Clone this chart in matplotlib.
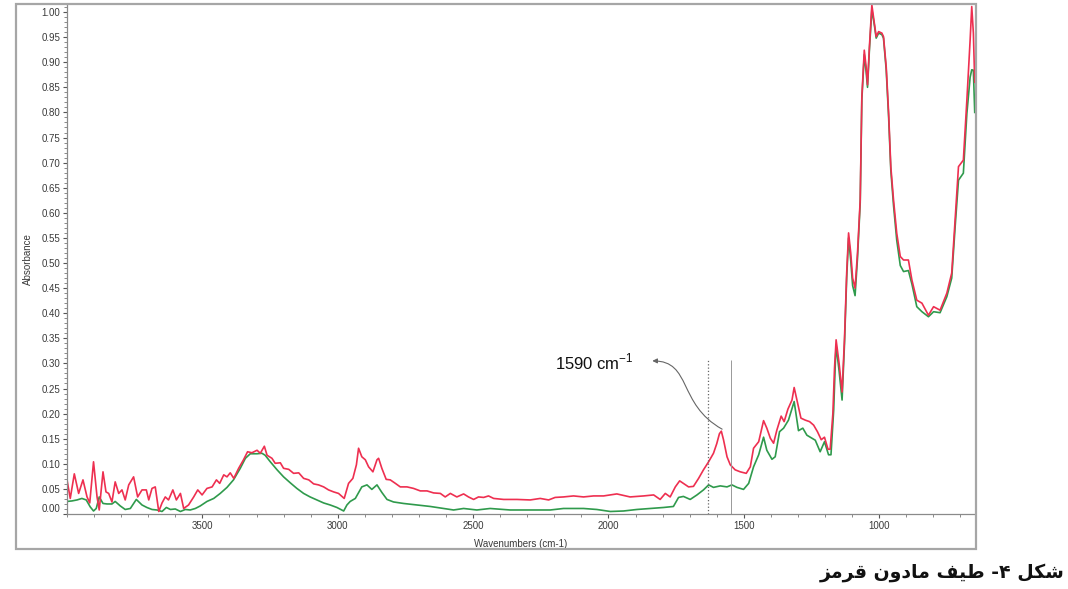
import numpy as np
import matplotlib
matplotlib.use("Agg")
import matplotlib.pyplot as plt
from matplotlib.patches import Rectangle, FancyArrowPatch
from matplotlib.path import Path
from matplotlib.ticker import MultipleLocator, FormatStrFormatter

# =============================================================================
# data (wavenumber cm-1, absorbance)
# =============================================================================

wn_red = [4000, 3988, 3973, 3957, 3941, 3926, 3916, 3902, 3889, 3881, 3867, 3856, 3846, 3834,
          3822, 3809, 3797, 3785, 3772, 3754, 3739, 3723, 3707, 3698, 3686, 3674, 3661, 3649,
          3637, 3625, 3609, 3596, 3581, 3569, 3551, 3532, 3517, 3501, 3483, 3464, 3448, 3436,
          3421, 3409, 3397, 3384, 3366, 3348, 3333, 3317, 3298, 3286, 3271, 3261, 3243, 3231,
          3212, 3200, 3181, 3163, 3144, 3126, 3107, 3089, 3071, 3052, 3034, 3015, 2997,
          2976, 2960, 2944, 2931, 2923, 2911, 2898, 2886, 2870, 2855, 2849, 2837, 2821, 2806,
          2787, 2769, 2744, 2720, 2695, 2670, 2646, 2621, 2603, 2584, 2560, 2535, 2517, 2498,
          2480, 2461, 2443, 2424, 2387, 2338, 2289, 2252, 2221, 2197, 2166, 2129, 2092, 2055,
          2018, 1969, 1920, 1870, 1833, 1809, 1790, 1772, 1753, 1737, 1723, 1704, 1686, 1667,
          1649, 1630, 1612, 1600,
          1590, 1583, 1575, 1562, 1550, 1532, 1513, 1491, 1476, 1464, 1445, 1427, 1415, 1402,
          1390, 1378, 1362, 1351, 1337, 1322, 1314, 1301, 1289, 1273, 1257, 1242, 1228, 1214,
          1202, 1189, 1181, 1171,
          1165, 1159, 1148, 1137, 1128, 1120, 1113, 1105, 1098, 1089, 1080, 1070, 1064, 1055,
          1048, 1043, 1036, 1027, 1018, 1011, 1002, 990, 984, 974, 965, 957, 947, 935, 922,
          910, 892, 879, 861, 842, 818, 799, 775, 750, 732, 719, 707, 689, 676, 664, 658, 652, 647]
abs_red = [0.068, 0.031, 0.080, 0.041, 0.068, 0.034, 0.022, 0.104, 0.034, 0.008, 0.084, 0.044, 0.041, 0.024,
           0.064, 0.041, 0.048, 0.028, 0.058, 0.074, 0.034, 0.048, 0.048, 0.028, 0.051, 0.054, 0.005, 0.022,
           0.034, 0.028, 0.048, 0.028, 0.041, 0.011, 0.018, 0.034, 0.048, 0.038, 0.051, 0.054, 0.068, 0.061,
           0.078, 0.074, 0.082, 0.071, 0.091, 0.108, 0.124, 0.122, 0.127, 0.121, 0.135, 0.117, 0.111, 0.101,
           0.102, 0.091, 0.089, 0.081, 0.082, 0.071, 0.068, 0.060, 0.058, 0.054, 0.048, 0.044, 0.041,
           0.031, 0.061, 0.071, 0.098, 0.131, 0.114, 0.108, 0.094, 0.084, 0.108, 0.111, 0.091, 0.069, 0.068,
           0.061, 0.054, 0.054, 0.051, 0.046, 0.046, 0.042, 0.041, 0.034, 0.041, 0.034, 0.040, 0.034, 0.029,
           0.034, 0.033, 0.036, 0.031, 0.029, 0.029, 0.028, 0.031, 0.028, 0.033, 0.034, 0.036, 0.034, 0.036,
           0.036, 0.040, 0.034, 0.036, 0.038, 0.029, 0.041, 0.034, 0.054, 0.066, 0.061, 0.054, 0.055, 0.071,
           0.088, 0.104, 0.121, 0.140,
           0.160, 0.165, 0.148, 0.114, 0.098, 0.088, 0.084, 0.081, 0.094, 0.131, 0.144, 0.186, 0.171, 0.151,
           0.141, 0.167, 0.195, 0.184, 0.209, 0.227, 0.252, 0.220, 0.191, 0.187, 0.184, 0.177, 0.164, 0.148,
           0.153, 0.129, 0.129, 0.200,
           0.290, 0.347, 0.300, 0.243, 0.350, 0.480, 0.560, 0.520, 0.470, 0.450, 0.520, 0.626, 0.831, 0.924,
           0.890, 0.855, 0.931, 1.014, 0.978, 0.951, 0.961, 0.958, 0.951, 0.891, 0.798, 0.692, 0.626, 0.559, 0.513,
           0.506, 0.506, 0.466, 0.426, 0.420, 0.396, 0.413, 0.406, 0.440, 0.480, 0.592, 0.692, 0.705, 0.825,
           0.944, 1.011, 0.958, 0.860]

wn_green = [4000, 3982, 3963, 3945, 3929, 3914, 3902, 3892, 3881, 3867, 3852, 3834, 3822, 3803,
            3785, 3766, 3744, 3723, 3705, 3686, 3668, 3649, 3633, 3618, 3600, 3581, 3563, 3545,
            3526, 3508, 3483, 3458, 3434, 3409, 3385, 3360, 3341, 3323, 3298, 3280, 3268, 3249,
            3224, 3200, 3175, 3151, 3126, 3102, 3077, 3052, 3028, 3003, 2978, 2966, 2954,
            2935, 2911, 2892, 2874, 2855, 2837, 2818, 2794, 2757, 2707, 2658, 2609, 2572, 2535,
            2486, 2437, 2363, 2289, 2215, 2166, 2092, 2043, 1993, 1944, 1895, 1846, 1796, 1760,
            1741, 1723, 1698, 1673, 1649, 1630, 1612, 1587, 1562, 1544, 1525, 1501, 1482, 1464,
            1445, 1427, 1415, 1396, 1384, 1368, 1353, 1335, 1314, 1298, 1282, 1267, 1236, 1218,
            1202, 1187, 1178, 1168,
            1162, 1159, 1148, 1137, 1128, 1120, 1113, 1105, 1098, 1089, 1080, 1070, 1064, 1055,
            1048, 1043, 1036, 1027, 1018, 1011, 1002, 990, 984, 974, 965, 957, 947, 935, 922,
            910, 892, 879, 861, 842, 818, 799, 775, 750, 732, 719, 707, 689, 676, 664, 658, 652, 647]
abs_green = [0.025, 0.026, 0.028, 0.031, 0.028, 0.014, 0.006, 0.011, 0.034, 0.021, 0.020, 0.020, 0.025, 0.016,
             0.009, 0.011, 0.029, 0.018, 0.013, 0.009, 0.008, 0.005, 0.013, 0.009, 0.010, 0.005, 0.009, 0.008,
             0.011, 0.016, 0.025, 0.031, 0.041, 0.053, 0.068, 0.091, 0.111, 0.120, 0.120, 0.121, 0.117, 0.104,
             0.088, 0.074, 0.062, 0.051, 0.041, 0.034, 0.028, 0.022, 0.018, 0.013, 0.006, 0.018, 0.025,
             0.031, 0.054, 0.058, 0.049, 0.058, 0.043, 0.029, 0.024, 0.021, 0.018, 0.015, 0.011, 0.008, 0.011,
             0.008, 0.011, 0.008, 0.008, 0.008, 0.011, 0.011, 0.009, 0.005, 0.006, 0.009, 0.011, 0.013, 0.015,
             0.033, 0.035, 0.029, 0.038, 0.048, 0.058, 0.053, 0.056, 0.054, 0.058, 0.053, 0.049, 0.061, 0.094,
             0.118, 0.153, 0.127, 0.109, 0.114, 0.164, 0.171, 0.187, 0.224, 0.166, 0.171, 0.157, 0.147, 0.124,
             0.144, 0.118, 0.118, 0.207,
             0.300, 0.335, 0.285, 0.227, 0.340, 0.470, 0.550, 0.505, 0.455, 0.435, 0.510, 0.620, 0.825, 0.915,
             0.880, 0.850, 0.925, 1.005, 0.975, 0.948, 0.958, 0.955, 0.948, 0.885, 0.790, 0.685, 0.615, 0.545, 0.495,
             0.483, 0.485, 0.458, 0.413, 0.403, 0.393, 0.403, 0.401, 0.433, 0.470, 0.575, 0.665, 0.679, 0.798,
             0.870, 0.885, 0.884, 0.800]

y_ticks = np.arange(0, 1.001, 0.05)
x_ticks = [3500, 3000, 2500, 2000, 1500, 1000]
marker_lines = [1634, 1546]          # guide lines either side of the band
band_label = r'1590 cm$^{\mathregular{-1}}$'
caption = "\uFEB0\uFEE3\uFEAE\uFED7 \uFEE5\uFEED\uFEA9\uFE8E\uFEE3 \uFED2\uFBFF\uFEC3 -\u06F4 \uFEDE\uFB91\uFEB7"

RED = '#ee2f50'
GREEN = '#2f9a4c'
AXIS = '#8a8a8a'

# =============================================================================
# figure
# =============================================================================

W, H = 1068, 589
fig = plt.figure(figsize=(W / 100, H / 100), dpi=100)
ax = fig.add_axes([67 / W, 75 / H, 908 / W, 510 / H])

ax.plot(wn_green, abs_green, color=GREEN, linewidth=1.2)
ax.plot(wn_red, abs_red, color=RED, linewidth=1.2)

ax.set_xlim(4000, 646)
ax.set_ylim(0, 1.016)

for sp in ['top', 'right']:
    ax.spines[sp].set_visible(False)
for sp in ['left', 'bottom']:
    ax.spines[sp].set_color(AXIS)
    ax.spines[sp].set_linewidth(0.9)

ax.set_yticks(y_ticks)
ax.yaxis.set_major_formatter(FormatStrFormatter('%.2f'))
ax.yaxis.set_minor_locator(MultipleLocator(0.01))
ax.set_xticks(x_ticks)
ax.xaxis.set_minor_locator(MultipleLocator(100))
ax.tick_params(which='major', length=3, width=0.8, color='#555555',
               labelsize=7, labelcolor='#3a3a3a', pad=2)
ax.tick_params(which='minor', length=2, width=0.6, color='#777777')
for lab in ax.get_xticklabels() + ax.get_yticklabels():
    lab.set_fontfamily('Liberation Sans')
# the 0.00 label sits just above the axis line
ax.yaxis.get_major_ticks()[0].label1.set_verticalalignment('bottom')

ax.set_xlabel('Wavenumbers (cm-1)', fontsize=7, family='Liberation Sans',
              color='#3a3a3a', labelpad=6)
ax.set_ylabel('Absorbance', fontsize=7, family='Liberation Sans',
              color='#3a3a3a', labelpad=6)

# guide lines and band annotation
ax.vlines(marker_lines[0], 0, 0.307, colors='#666666', linestyles=':', linewidth=0.9)
ax.vlines(marker_lines[1], 0, 0.307, colors='#999999', linestyles='-', linewidth=0.7)

ax.text(2197, 0.303, band_label, fontsize=12, family='Liberation Sans',
        ha='left', va='center', color='#111111')
arrow_path = Path([(1580, 0.169), (1746, 0.219), (1691, 0.305), (1838, 0.305)],
                  [Path.MOVETO, Path.CURVE4, Path.CURVE4, Path.CURVE4])
ax.add_patch(FancyArrowPatch(path=arrow_path, arrowstyle='-|>', mutation_scale=7,
                             color='#666666', linewidth=0.8,
                             transform=ax.transData))

# outer frame of the exported chart image
fig.patches.append(Rectangle((16 / W, 40 / H), 960 / W, 545 / H, transform=fig.transFigure,
                             fill=False, edgecolor='#a6a6a6', linewidth=1.6))

fig.text(1065 / W, 1 - 572 / H, caption, fontsize=13.6, fontweight='bold',
         family=['DejaVu Sans'], ha='right', va='center', color='#111111')

fig.savefig('out.png', dpi=100, facecolor='white')
